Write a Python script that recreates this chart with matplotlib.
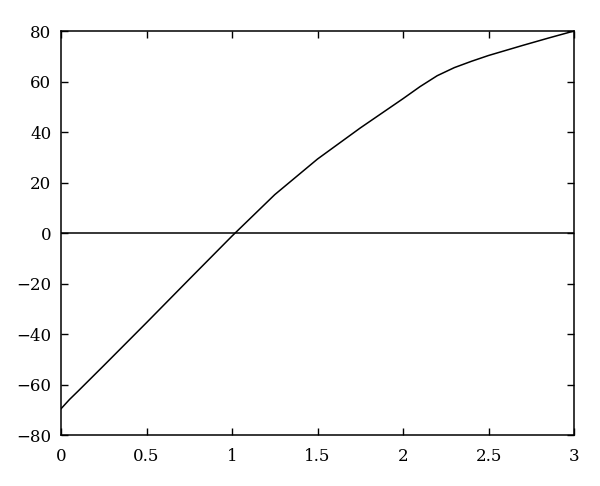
import numpy as np
import matplotlib.pyplot as plt

# values
x = [0.0, 0.05, 0.1, 0.25, 0.5, 0.75, 1.0, 1.25, 1.5, 1.75, 2.0, 2.1, 2.2, 2.3, 2.4, 2.5, 2.7, 2.85, 3.0]
y = [-69.6, -65.9, -62.6, -52.5, -35.5, -18.3, -1.2, 15.2, 29.3, 41.6, 53.2, 58.0, 62.3, 65.5, 68.0, 70.3, 74.3, 77.2, 80]

xticks = [0, 0.5, 1, 1.5, 2, 2.5, 3]
xticklabels = ['0', '0.5', '1', '1.5', '2', '2.5', '3']
yticks = [-80, -60, -40, -20, 0, 20, 40, 60, 80]

plt.rc('font', family=['DejaVu Serif'], size=12)

fig = plt.figure(figsize=(6, 4.86), dpi=100)
ax = fig.add_axes([0.1017, 0.1049, 0.855, 0.8313])

ax.plot(x, y, 'k-', lw=1.1)
ax.axhline(0, color='k', lw=1.1)

ax.set_xlim(0, 3)
ax.set_ylim(-80, 80)
ax.set_xticks(xticks)
ax.set_xticklabels(xticklabels)
ax.set_yticks(yticks)
ax.tick_params(direction='in', length=5, width=1, top=True, right=True)
ax.tick_params(axis='x', pad=9)
ax.tick_params(axis='y', pad=7)
for s in ax.spines.values():
    s.set_linewidth(1.1)

fig.savefig('out.png', dpi=100)
